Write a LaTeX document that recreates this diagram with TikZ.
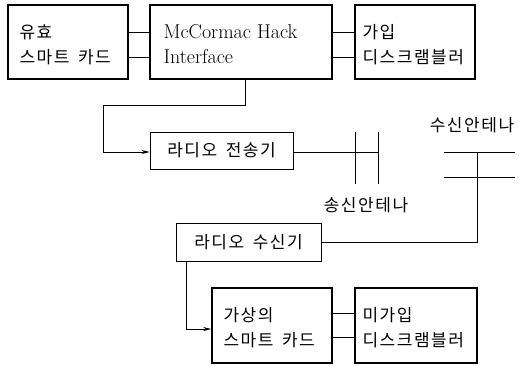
\documentclass[tikz,border=0pt]{standalone}
\usepackage{fontspec}
\newfontfamily\kr[LetterSpace=9]{Noto Sans CJK KR}
\usetikzlibrary{arrows.meta,calc}
\tikzset{
  thickbox/.style={draw, line width=1.6pt, inner sep=0pt},
  thinbox/.style={draw, line width=0.9pt, inner sep=0pt},
  conn/.style={line width=0.8pt},
  arr/.style={conn, -{Stealth[length=8pt,width=4pt]}},
  krtext/.style={font=\kr\fontsize{17}{25}\selectfont},
  lmtext/.style={font=\fontsize{20}{25}\selectfont},
}
\begin{document}
\begin{tikzpicture}[x=1pt,y=-1pt]
\useasboundingbox (0,0) rectangle (519,365);
% top row
\node[thickbox, minimum width=120pt, minimum height=74pt] (b1) at (68,42) {};
\node[krtext, anchor=west, align=left] (t1) at (16,44.5) {유효\\스마트\hspace{0.5em}카드};
\node[thickbox, minimum width=182pt, minimum height=74pt] (b2) at (241,42) {};
\node[lmtext, anchor=west, align=left] (t2) at (160,44.5) {McCormac Hack\\Interface};
\node[thickbox, minimum width=120pt, minimum height=74pt] (b3) at (415,42) {};
\node[krtext, anchor=west, align=left] (t3) at (359,44.5) {가입\\디스크램블러};
% transmitter
\node[thinbox, minimum width=143pt, minimum height=37pt, krtext] (tx) at (221.5,150.5) {라디오\hspace{0.5em}전송기};
% receiver
\node[thinbox, minimum width=145pt, minimum height=38pt, krtext] (rx) at (248.5,242) {라디오\hspace{0.5em}수신기};
% bottom row
\node[thickbox, minimum width=120pt, minimum height=75pt] (vs) at (272,325.5) {};
\node[krtext, anchor=west, align=left] (t4) at (220,328) {가상의\\스마트\hspace{0.5em}카드};
\node[thickbox, minimum width=122pt, minimum height=75pt] (ud) at (416,325.5) {};
\node[krtext, anchor=west, align=left] (t5) at (359,328) {미가입\\디스크램블러};
% labels
\node[krtext] (lt) at (366,205) {송신안테나};
\node[krtext] (lr) at (472,125) {수신안테나};
% connectors top
\draw[conn] ([yshift=10pt]b1.east) -- ([yshift=10pt]b2.west);
\draw[conn] ([yshift=-15pt]b1.east) -- ([yshift=-15pt]b2.west);
\draw[conn] ([yshift=10pt]b2.east) -- ([yshift=10pt]b3.west);
\draw[conn] ([yshift=-15pt]b2.east) -- ([yshift=-15pt]b3.west);
% interface to transmitter
\coordinate (c1) at (245,79);
\draw[arr] (c1) -- (245,105) -- (103,105) |- ([yshift=-1.5pt]tx.west);
% transmit antenna
\coordinate (a1t) at (355,132);
\coordinate (a1b) at (355,184);
\coordinate (a2t) at (378,132);
\coordinate (a2b) at (378,184);
\coordinate (ae) at (378,152);
\draw[conn] ([yshift=-1.5pt]tx.east) -- (ae);
\draw[conn] (a1t) -- (a1b);
\draw[conn] (a2t) -- (a2b);
% receive antenna
\coordinate (r1l) at (444,152);
\coordinate (r1r) at (515,152);
\coordinate (r2l) at (444,177);
\coordinate (r2r) at (515,177);
\coordinate (rv) at (477,152);
\draw[conn] (r1l) -- (r1r);
\draw[conn] (r2l) -- (r2r);
\draw[conn] (rv) |- (rx.east);
% receiver to virtual card
\draw[arr] ([xshift=11pt]rx.south west) |- ([yshift=-3.5pt]vs.west);
% bottom connectors
\draw[conn] ([yshift=12.5pt]vs.east) -- ([yshift=12.5pt]ud.west);
\draw[conn] ([yshift=-11.5pt]vs.east) -- ([yshift=-11.5pt]ud.west);
\end{tikzpicture}
\end{document}
